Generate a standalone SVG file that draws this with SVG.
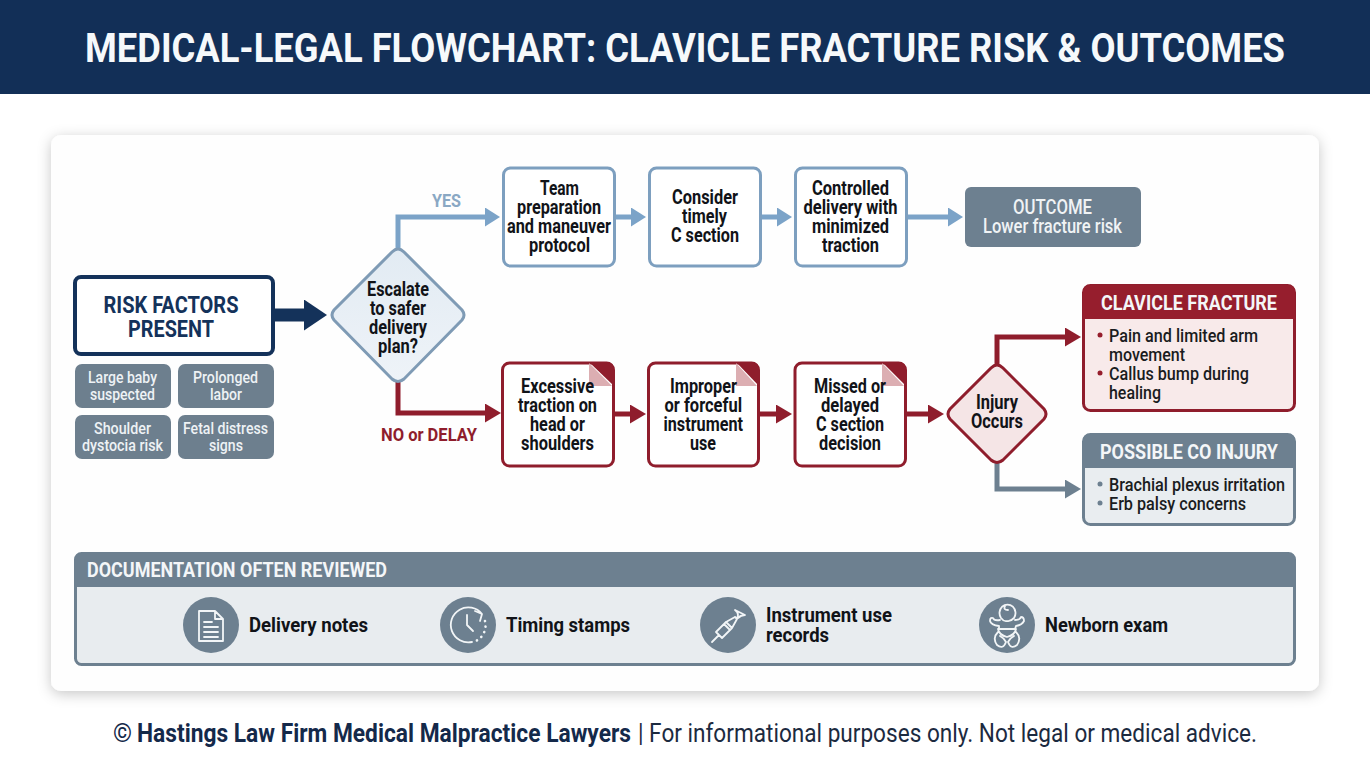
<svg xmlns="http://www.w3.org/2000/svg" width="1370" height="765" viewBox="0 0 1370 765">
<style>
text{font-family:"Roboto","Liberation Sans",sans-serif;font-weight:700;fill:#111318}
.n{font-size:19.5px}
.c{font-size:16.5px;font-weight:500;fill:#eef2f5}
.w{fill:#f6f9fb;font-size:41.5px}
.b{font-size:19px;font-weight:500;fill:#1a1c20}
.h{font-size:21px;fill:#f4f6f8}
.d{font-size:20.5px}
.chip{fill:#6d7f8e}
.blue{fill:#fff;stroke:#7d9fbf;stroke-width:3}
.red{fill:#fff;stroke:#8f1d2c;stroke-width:3}
.conn{fill:none;stroke-width:5}
.cb{stroke:#7ba3c8;marker-end:url(#ab)}
.cr{stroke:#8f1d2c;marker-end:url(#ar)}
.cg{stroke:#6d8090;marker-end:url(#ag)}
.ic{fill:none;stroke:#f2f5f7;stroke-width:1.8;stroke-linecap:round;stroke-linejoin:round}
.fold1{fill:#8f1d2c}
.fold2{fill:#dcaeb2}
.dr{fill:#961e2d}
.dg{fill:#6d8090}
</style>
<defs>
<filter id="sh" x="-5%" y="-5%" width="110%" height="110%"><feDropShadow dx="0" dy="3" stdDeviation="7" flood-color="#000" flood-opacity=".22"/></filter>
<marker id="ab" markerUnits="userSpaceOnUse" markerWidth="16" markerHeight="20" refX="5" refY="9.5" orient="auto"><path d="M0 0L15 9.5L0 19Z" fill="#7ba3c8"/></marker>
<marker id="ar" markerUnits="userSpaceOnUse" markerWidth="18" markerHeight="20" refX="5" refY="9.5" orient="auto"><path d="M0 0L16 9.5L0 19Z" fill="#8f1d2c"/></marker>
<marker id="ag" markerUnits="userSpaceOnUse" markerWidth="18" markerHeight="20" refX="5" refY="9.5" orient="auto"><path d="M0 0L16 9.5L0 19Z" fill="#6d8090"/></marker>
<marker id="an" markerUnits="userSpaceOnUse" markerWidth="25" markerHeight="32" refX="0" refY="15.5" orient="auto"><path d="M0 0L23 15.5L0 31Z" fill="#14325a"/></marker>
<linearGradient id="dia" x1="0" y1="0" x2="0" y2="1"><stop offset="0" stop-color="#e2ebf3"/><stop offset="1" stop-color="#eef3f8"/></linearGradient>
</defs>
<rect width="1370" height="765" fill="#fff"/>
<g id="header">
<rect width="1370" height="94" fill="#122f57"/>
<text class="w" transform="translate(85 62) scale(.86 1)" textLength="1395.300" lengthAdjust="spacingAndGlyphs">MEDICAL-LEGAL FLOWCHART: CLAVICLE FRACTURE RISK &amp; OUTCOMES</text>
</g>
<rect id="card" x="51" y="135" width="1268" height="556" rx="10" fill="#fefefe" filter="url(#sh)"/>
<g id="connectors">
<path class="conn" style="stroke:#14325a;stroke-width:13;marker-end:url(#an)" d="M274 315H304"/>
<path class="conn cb" d="M398 249V217H490"/>
<path class="conn cr" d="M398 382V413H490"/>
<path class="conn cb" d="M615 217H636"/>
<path class="conn cb" d="M761 217H782"/>
<path class="conn cb" d="M907 217H953"/>
<path class="conn cr" d="M613 414H635"/>
<path class="conn cr" d="M759 414H781"/>
<path class="conn cr" d="M906 414H933"/>
<path class="conn cr" d="M997 366V337H1070"/>
<path class="conn cg" d="M997 462V489H1070"/>
</g>
<g id="risk-factors">
<rect x="75" y="277" width="198" height="77" rx="6" fill="#fff" stroke="#14325a" stroke-width="4"/>
<text x="103.500" y="313" style="font-size:24px;fill:#14325a" textLength="135" lengthAdjust="spacingAndGlyphs">RISK FACTORS</text>
<text x="128" y="337" style="font-size:24px;fill:#14325a" textLength="86" lengthAdjust="spacingAndGlyphs">PRESENT</text>
</g>
<g id="chip-large-baby">
<rect class="chip" x="75" y="364" width="96" height="44" rx="7"/>
<text class="c" x="88" y="383" textLength="69" lengthAdjust="spacingAndGlyphs">Large baby</text>
<text class="c" x="90" y="400" textLength="65" lengthAdjust="spacingAndGlyphs">suspected</text>
</g>
<g id="chip-prolonged">
<rect class="chip" x="178" y="364" width="96" height="44" rx="7"/>
<text class="c" x="193" y="383" textLength="65" lengthAdjust="spacingAndGlyphs">Prolonged</text>
<text class="c" x="210" y="400" textLength="32" lengthAdjust="spacingAndGlyphs">labor</text>
</g>
<g id="chip-shoulder">
<rect class="chip" x="75" y="415" width="96" height="44" rx="7"/>
<text class="c" x="94" y="434" textLength="57" lengthAdjust="spacingAndGlyphs">Shoulder</text>
<text class="c" x="82" y="451" textLength="81" lengthAdjust="spacingAndGlyphs">dystocia risk</text>
</g>
<g id="chip-fetal">
<rect class="chip" x="178" y="415" width="96" height="44" rx="7"/>
<text class="c" x="183" y="434" textLength="85" lengthAdjust="spacingAndGlyphs">Fetal distress</text>
<text class="c" x="209" y="451" textLength="34" lengthAdjust="spacingAndGlyphs">signs</text>
</g>
<g id="decision-escalate">
<path d="M398 249Q401 249 404 252L462 310Q466 315 462 320L404 379Q398 384 392 379L334 320Q330 315 334 310L392 252Q395 249 398 249Z" fill="url(#dia)" stroke="#7f9bb5" stroke-width="3"/>
<text class="n" x="367" y="296" textLength="62" lengthAdjust="spacingAndGlyphs">Escalate</text>
<text class="n" x="370" y="315" textLength="56" lengthAdjust="spacingAndGlyphs">to safer</text>
<text class="n" x="369" y="334" textLength="58" lengthAdjust="spacingAndGlyphs">delivery</text>
<text class="n" x="378" y="353" textLength="40" lengthAdjust="spacingAndGlyphs">plan?</text>
</g>
<text x="432" y="207" style="font-size:19px;fill:#8aa8c4" textLength="29" lengthAdjust="spacingAndGlyphs">YES</text>
<text x="381" y="441" style="font-size:19px;fill:#8f1d2c" textLength="96" lengthAdjust="spacingAndGlyphs">NO or DELAY</text>
<g id="step-team">
<rect class="blue" x="503.500" y="168" width="111" height="98" rx="7"/>
<text class="n" x="540" y="195" textLength="39" lengthAdjust="spacingAndGlyphs">Team</text>
<text class="n" x="517" y="214" textLength="84" lengthAdjust="spacingAndGlyphs">preparation</text>
<text class="n" x="507" y="233" textLength="104" lengthAdjust="spacingAndGlyphs">and maneuver</text>
<text class="n" x="529" y="252" textLength="61" lengthAdjust="spacingAndGlyphs">protocol</text>
</g>
<g id="step-consider">
<rect class="blue" x="649.500" y="168" width="111" height="98" rx="7"/>
<text class="n" x="672" y="204" textLength="66" lengthAdjust="spacingAndGlyphs">Consider</text>
<text class="n" x="682" y="223" textLength="45" lengthAdjust="spacingAndGlyphs">timely</text>
<text class="n" x="671" y="242" textLength="68" lengthAdjust="spacingAndGlyphs">C section</text>
</g>
<g id="step-controlled">
<rect class="blue" x="795.500" y="168" width="111" height="98" rx="7"/>
<text class="n" x="812" y="195" textLength="77" lengthAdjust="spacingAndGlyphs">Controlled</text>
<text class="n" x="803.500" y="214" textLength="94" lengthAdjust="spacingAndGlyphs">delivery with</text>
<text class="n" x="812" y="233" textLength="77" lengthAdjust="spacingAndGlyphs">minimized</text>
<text class="n" x="822" y="252" textLength="57" lengthAdjust="spacingAndGlyphs">traction</text>
</g>
<g id="outcome">
<rect x="965" y="187" width="176" height="60" rx="6" fill="#6d8090"/>
<text x="1013" y="214" style="font-size:19.500px;font-weight:500;fill:#f0f3f5" textLength="79" lengthAdjust="spacingAndGlyphs">OUTCOME</text>
<text x="983" y="233" style="font-size:19.500px;font-weight:500;fill:#f0f3f5" textLength="139" lengthAdjust="spacingAndGlyphs">Lower fracture risk</text>
</g>
<g id="step-excessive">
<rect class="red" x="502.500" y="363" width="111" height="103" rx="7"/>
<path class="fold1" d="M589 362H606Q614 362 614 370V386Z"/><path class="fold2" d="M589 363V386H612Z"/>
<text class="n" x="521" y="393" textLength="73" lengthAdjust="spacingAndGlyphs">Excessive</text>
<text class="n" x="518" y="412" textLength="79" lengthAdjust="spacingAndGlyphs">traction on</text>
<text class="n" x="530" y="431" textLength="55" lengthAdjust="spacingAndGlyphs">head or</text>
<text class="n" x="521" y="450" textLength="73" lengthAdjust="spacingAndGlyphs">shoulders</text>
</g>
<g id="step-improper">
<rect class="red" x="648.500" y="363" width="110" height="103" rx="7"/>
<path class="fold1" d="M736 362H751Q759 362 759 370V386Z"/><path class="fold2" d="M736 363V386H757Z"/>
<text class="n" x="670" y="393" textLength="67" lengthAdjust="spacingAndGlyphs">Improper</text>
<text class="n" x="664.500" y="412" textLength="77.500" lengthAdjust="spacingAndGlyphs">or forceful</text>
<text class="n" x="663.500" y="431" textLength="79.500" lengthAdjust="spacingAndGlyphs">instrument</text>
<text class="n" x="690" y="450" textLength="26" lengthAdjust="spacingAndGlyphs">use</text>
</g>
<g id="step-missed">
<rect class="red" x="795" y="363" width="110.500" height="103" rx="7"/>
<path class="fold1" d="M882 362H898Q906 362 906 370V386Z"/><path class="fold2" d="M882 363V386H904Z"/>
<text class="n" x="814" y="393" textLength="72" lengthAdjust="spacingAndGlyphs">Missed or</text>
<text class="n" x="821" y="412" textLength="58" lengthAdjust="spacingAndGlyphs">delayed</text>
<text class="n" x="816" y="431" textLength="68" lengthAdjust="spacingAndGlyphs">C section</text>
<text class="n" x="819" y="450" textLength="62" lengthAdjust="spacingAndGlyphs">decision</text>
</g>
<g id="decision-injury">
<path d="M997 365Q1000 365 1003 368L1044 409Q1048 414 1044 419L1003 460Q997 465 991 460L950 419Q946 414 950 409L991 368Q994 365 997 365Z" fill="#f5e5e6" stroke="#8f1d2c" stroke-width="3"/>
<text class="n" x="976" y="409" textLength="42" lengthAdjust="spacingAndGlyphs">Injury</text>
<text class="n" x="971" y="428" textLength="52" lengthAdjust="spacingAndGlyphs">Occurs</text>
</g>
<g id="clavicle-fracture">
<rect x="1083.500" y="285.500" width="211" height="125" rx="7" fill="#f8eaea" stroke="#8f1d2c" stroke-width="3"/>
<path class="dr" d="M1083 319V292Q1083 285 1090 285H1288Q1295 285 1295 292V319Z"/>
<text class="h" x="1101" y="310" textLength="176" lengthAdjust="spacingAndGlyphs">CLAVICLE FRACTURE</text>
<circle class="dr" cx="1100" cy="335" r="2.500"/>
<circle class="dr" cx="1100" cy="373" r="2.500"/>
<text class="b" x="1109" y="342" textLength="149" lengthAdjust="spacingAndGlyphs">Pain and limited arm</text>
<text class="b" x="1109" y="361" textLength="76" lengthAdjust="spacingAndGlyphs">movement</text>
<text class="b" x="1109" y="380" textLength="140" lengthAdjust="spacingAndGlyphs">Callus bump during</text>
<text class="b" x="1109" y="399" textLength="52" lengthAdjust="spacingAndGlyphs">healing</text>
</g>
<g id="possible-co-injury">
<rect x="1083.500" y="434.500" width="211" height="90" rx="7" fill="#e9edf0" stroke="#6d8090" stroke-width="3"/>
<path class="dg" d="M1083 468V441Q1083 434 1090 434H1288Q1295 434 1295 441V468Z"/>
<text class="h" x="1100" y="459" textLength="178" lengthAdjust="spacingAndGlyphs">POSSIBLE CO INJURY</text>
<circle class="dg" cx="1100" cy="484" r="2.500"/>
<circle class="dg" cx="1100" cy="503" r="2.500"/>
<text class="b" x="1109" y="491" textLength="176" lengthAdjust="spacingAndGlyphs">Brachial plexus irritation</text>
<text class="b" x="1109" y="510" textLength="137" lengthAdjust="spacingAndGlyphs">Erb palsy concerns</text>
</g>
<g id="documentation">
<rect x="75.500" y="553.500" width="1219" height="111" rx="6" fill="#e8ecef" stroke="#6d8090" stroke-width="3"/>
<path class="dg" d="M75 587V560Q75 553 82 553H1288Q1295 553 1295 560V587Z"/>
<text class="h" x="87" y="577" style="font-size:20px" textLength="300" lengthAdjust="spacingAndGlyphs">DOCUMENTATION OFTEN REVIEWED</text>
</g>
<g id="doc-delivery-notes">
<circle class="dg" cx="211" cy="625" r="28"/>
<path class="ic" d="M199 611H215L223 619V641H199ZM215 611V619H223M204 622H212M204 627H218M204 632H218M204 637H218"/>
<text class="d" x="249" y="632" textLength="119" lengthAdjust="spacingAndGlyphs">Delivery notes</text>
</g>
<g id="doc-timing-stamps">
<circle class="dg" cx="468" cy="625" r="28"/>
<path class="ic" d="M482 614A17.500 17.500 0 1 0 472 642M475 611L482 614L480 621M467 615V625L473 631"/>
<path class="ic" stroke-dasharray="0.100 5.500" style="stroke-width:2.600" d="M485 621A17.500 17.500 0 0 1 476 641"/>
<text class="d" x="506" y="632" textLength="124" lengthAdjust="spacingAndGlyphs">Timing stamps</text>
</g>
<g id="doc-instrument-use">
<circle class="dg" cx="728" cy="625" r="28"/>
<path class="ic" d="M712 642L719 635M716 632L726 622L732 628L722 638ZM724 624L730 630M726 622L735 617M732 628L737 619M735 617L737 619M737 619L738 615Q738 612 735 610L745 615Q741 615 738 618"/>
<text class="d" x="766" y="622" textLength="126" lengthAdjust="spacingAndGlyphs">Instrument use</text>
<text class="d" x="766" y="642" textLength="63" lengthAdjust="spacingAndGlyphs">records</text>
</g>
<g id="doc-newborn-exam">
<circle class="dg" cx="1007" cy="625" r="28"/>
<path class="ic" d="M1001 618A8 8.500 0 1 1 1014 618Q1010 622 1007 621Q1004 622 1001 618ZM1005 606Q1003 610 1008 610M1000 620Q994 621 993 618Q990 617 990 621Q991 625 999 626L999 629M1015 620Q1020 620 1021 617Q1024 617 1024 621Q1022 625 1016 626L1015 629M998 629H1016Q1015 635 1007 637Q999 635 998 629ZM998 632Q992 638 997 645Q1003 650 1006 642Q1004 638 1000 636M1016 632Q1022 638 1017 645Q1011 650 1008 642Q1010 638 1014 636"/>
<text class="d" x="1045" y="632" textLength="123" lengthAdjust="spacingAndGlyphs">Newborn exam</text>
</g>
<g id="footer">
<text x="113" y="742" style="font-size:25px;font-weight:400;fill:#14294a" textLength="19" lengthAdjust="spacingAndGlyphs">©</text>
<text x="137" y="742" style="font-size:25px;fill:#14294a" textLength="494" lengthAdjust="spacingAndGlyphs">Hastings Law Firm Medical Malpractice Lawyers</text>
<text x="638" y="742" style="font-size:25px;font-weight:400;fill:#1c2a3f" textLength="619" lengthAdjust="spacingAndGlyphs">| For informational purposes only. Not legal or medical advice.</text>
</g>
</svg>
